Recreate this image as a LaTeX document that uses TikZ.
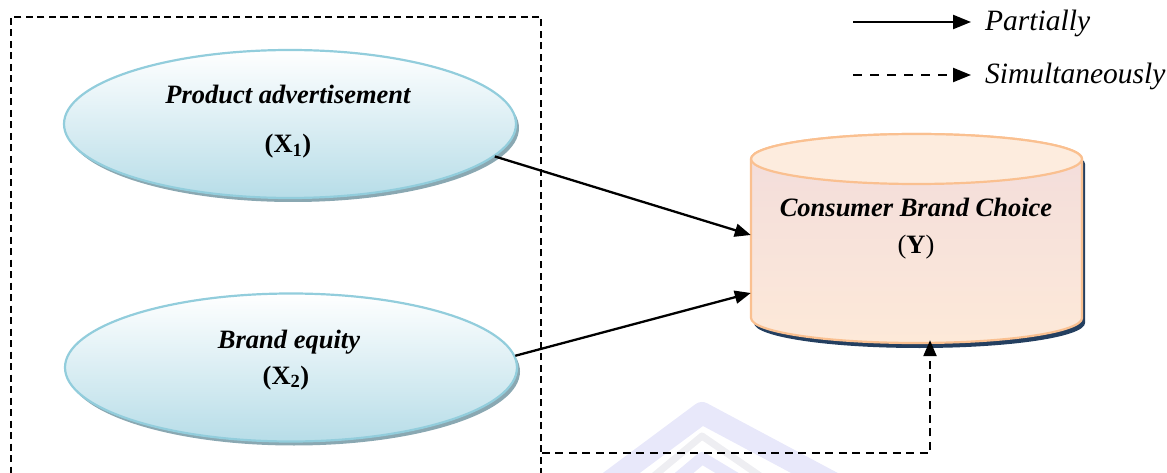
\documentclass[tikz,border=0pt]{standalone}
\usepackage{fontspec}
\setmainfont{Liberation Serif}
\usetikzlibrary{shapes.geometric,arrows.meta,calc,shadows}

\definecolor{ellline}{RGB}{146,205,220}
\definecolor{ellbot}{RGB}{183,221,232}
\definecolor{ellshadow}{RGB}{138,168,178}
\definecolor{cylline}{RGB}{250,192,144}
\definecolor{cyltop}{RGB}{253,236,222}
\definecolor{cylpink}{RGB}{242,220,219}
\definecolor{cylpeach}{RGB}{253,233,217}
\definecolor{cylshadow}{RGB}{36,63,96}
\definecolor{wmblue}{RGB}{232,232,250}
\definecolor{wmgray}{RGB}{238,238,242}

\begin{document}
\begin{tikzpicture}[x=1pt,y=-1pt,
  varell/.style={ellipse, draw=ellline, line width=2.2pt, top color=white, bottom color=ellbot,
    minimum width=452pt, minimum height=148pt, inner sep=0pt,
    general shadow={fill=ellshadow, shadow xshift=3pt, shadow yshift=-4pt}},
  lbl/.style={font=\fontsize{26.5}{30}\selectfont\bfseries\itshape, inner sep=0pt, anchor=base},
  lblx/.style={font=\fontsize{26.5}{30}\selectfont, inner sep=0pt, anchor=base},
  legtxt/.style={font=\fontsize{29.5}{33}\selectfont\itshape, inner sep=0pt, anchor=base west},
  partial/.style={line width=2.3pt, -{Triangle[length=16pt,width=13pt]}},
  simul/.style={line width=2.3pt, dash pattern=on 8pt off 5.5pt, -{Triangle[length=16pt,width=13pt]}},
  legsolid/.style={line width=2.3pt, -{Triangle[length=18pt,width=14pt]}},
  legdash/.style={line width=2.3pt, dash pattern=on 9pt off 8pt, -{Triangle[length=18pt,width=14pt]}},
  boxline/.style={line width=1.6pt, dash pattern=on 7pt off 4.5pt},
  cylbody/.style={draw=cylline, line width=2.2pt},
]
\useasboundingbox (0,0) rectangle (1167,473);

% faint watermark
\draw[wmblue, line width=22pt, line join=round] (585,500) -- (702,413) -- (865,500);
\draw[wmgray, line width=7pt, line join=round] (625,500) -- (702,436) -- (795,500);
\draw[wmblue, line width=12pt, line join=round] (652,500) -- (702,458) -- (772,500);

% dashed frame
\node[draw, boxline, minimum width=530pt, minimum height=480pt, inner sep=0pt] (frame) at (276,257) {};

% ellipses
\node[varell] (X1) at (290,124) {};
\node[lbl] (x1t) at (288,104) {Product advertisement};
\node[lblx] (x1s) at (288,153) {\textbf{(X\textsubscript{1})}};

\node[varell] (X2) at (291,367.5) {};
\node[lbl] (x2t) at (289,348) {Brand equity};
\node[lblx] (x2s) at (286,384) {\textbf{(X\textsubscript{2})}};

% cylinder
\begin{scope}[shift={(3,5)}]
\fill[cylshadow] (751,159) -- (751,318) arc[start angle=180, end angle=0, x radius=165.5, y radius=25]
  -- (1082,159) arc[start angle=0, end angle=-180, x radius=165.5, y radius=25] -- cycle;
\end{scope}
\path[cylbody, top color=cylpink, bottom color=cylpeach] (751,159) -- (751,318)
  arc[start angle=180, end angle=0, x radius=165.5, y radius=25]
  -- (1082,159) arc[start angle=0, end angle=-180, x radius=165.5, y radius=25] -- cycle;
\draw[cylbody, fill=cyltop] (916.5,159) ellipse[x radius=165.5, y radius=25];
\node[minimum width=331pt, minimum height=184pt, inner sep=0pt] (Y) at (916.5,251) {};
\node[lbl] (yt) at (916,217) {Consumer Brand Choice};
\node[lblx] (ys) at (916,253) {(\textbf{Y})};

% connectors
\draw[partial] (X1.-9) -- ($(Y.west)+(0,-16)$);
\draw[partial] (X2.3) -- ($(Y.west)+(0,42)$);
\coordinate (boxr) at ($(frame.north east)+(0,437)$);
\draw[simul] (boxr) -| ($(Y.south)+(13.5,-3)$);

% legend
\node[legtxt] (lp) at (985,31) {Partially};
\node[legtxt] (ls) at (985,84) {Simultaneously};
\draw[legsolid] ($(lp.base west)+(-132,-9)$) -- ($(lp.base west)+(-14,-9)$);
\draw[legdash] ($(ls.base west)+(-132,-9)$) -- ($(ls.base west)+(-14,-9)$);
\end{tikzpicture}
\end{document}
